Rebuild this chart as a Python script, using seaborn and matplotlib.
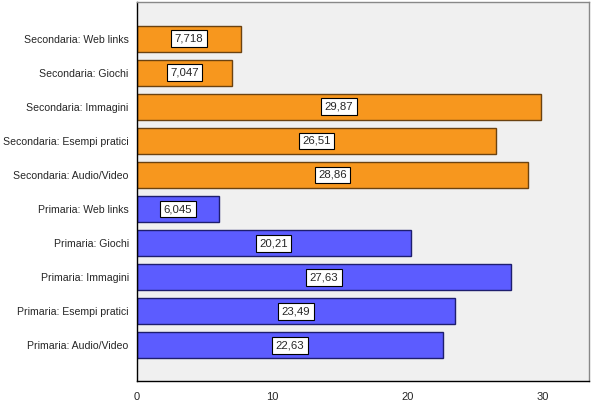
import matplotlib
matplotlib.use("Agg")
import matplotlib.pyplot as plt
import seaborn as sns
import pandas as pd

categories = [
    "Secondaria: Web links", "Secondaria: Giochi", "Secondaria: Immagini",
    "Secondaria: Esempi pratici", "Secondaria: Audio/Video",
    "Primaria: Web links", "Primaria: Giochi", "Primaria: Immagini",
    "Primaria: Esempi pratici", "Primaria: Audio/Video",
]
values = [7.718, 7.047, 29.87, 26.51, 28.86, 6.045, 20.21, 27.63, 23.49, 22.63]
labels = ["7,718", "7,047", "29,87", "26,51", "28,86", "6,045", "20,21", "27,63", "23,49", "22,63"]
groups = ["Secondaria"] * 5 + ["Primaria"] * 5

df = pd.DataFrame({"cat": categories, "val": values, "grp": groups})

sns.set_style("white")
plt.rcParams["font.family"] = ["Liberation Sans", "DejaVu Sans"]

fig = plt.figure(figsize=(5.95, 4.04), dpi=100)
ax = fig.add_axes([137/595, 1 - 381/404, (589-137)/595, (381-2)/404])
ax.set_facecolor("#F0F0F0")

sns.barplot(data=df, y="cat", x="val", hue="grp", order=categories,
            palette={"Secondaria": "#F7971E", "Primaria": "#5C5CFF"},
            dodge=False, width=0.76, legend=False, ax=ax, saturation=1)

edge = {"Secondaria": "#6B4210", "Primaria": "#1E1E6E"}
for cont, g in zip(ax.containers, ["Secondaria", "Primaria"]):
    for p in cont:
        p.set_edgecolor(edge[g])
        p.set_linewidth(1.0)

for i, (v, lab) in enumerate(zip(values, labels)):
    ax.text(v / 2, i, lab, ha="center", va="center", fontsize=8.2,
            bbox=dict(boxstyle="square,pad=0.3", fc="white", ec="black", lw=0.8))

ax.set_xlim(0, 33.4)
ax.set_ylim(9 + 1.05, -1.08)
ax.set_xticks([0, 10, 20, 30])
ax.set_xlabel("")
ax.set_ylabel("")
ax.tick_params(axis="both", direction="out", length=5, width=1, labelsize=7.6, color="black")
ax.tick_params(axis="x", pad=3, labelsize=8)
ax.tick_params(axis="y", pad=1)
for s in ["left", "bottom"]:
    ax.spines[s].set_color("black")
    ax.spines[s].set_linewidth(1)
for s in ["top", "right"]:
    ax.spines[s].set_color("#888888")
    ax.spines[s].set_linewidth(1)

fig.savefig("out.png", dpi=100)
